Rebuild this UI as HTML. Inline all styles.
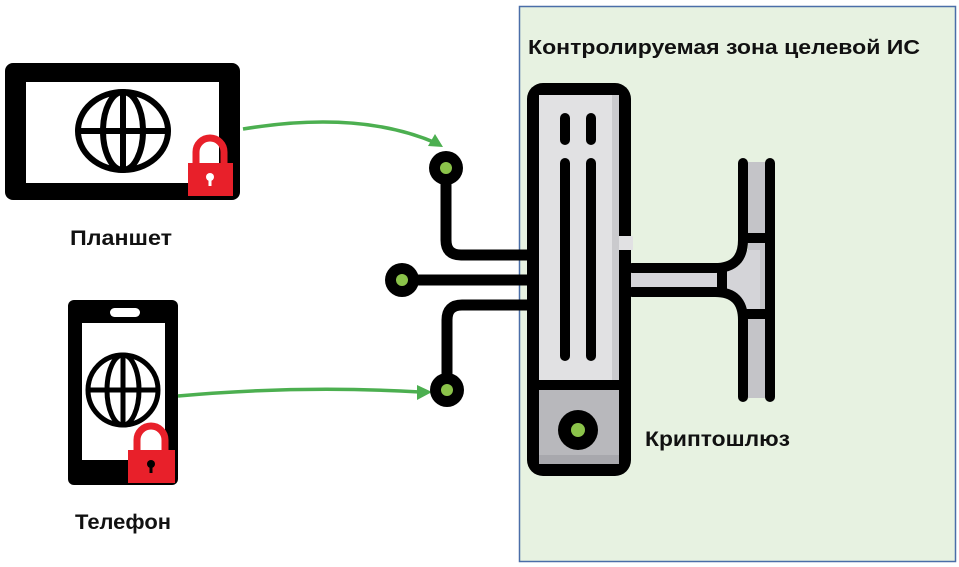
<!DOCTYPE html>
<html><head><meta charset="utf-8"><style>
html,body{margin:0;padding:0;background:#fff;}
svg{display:block;font-family:"Liberation Sans",sans-serif;}
</style></head><body>
<svg width="959" height="567" viewBox="0 0 959 567" xmlns="http://www.w3.org/2000/svg">
<rect x="519.5" y="6.5" width="436" height="555" fill="#e7f2e1" stroke="#4a6ea8" stroke-width="1.5"/>
<text x="528" y="54" font-size="20" font-weight="bold" fill="#111" textLength="392" lengthAdjust="spacingAndGlyphs">Контролируемая зона целевой ИС</text>

<!-- Tablet -->
<rect x="5" y="63" width="235" height="137" rx="8" fill="#000"/>
<rect x="26" y="82" width="193" height="101" fill="#fff"/>
<g fill="none" stroke="#000" stroke-width="6">
<ellipse cx="123" cy="131" rx="45" ry="39"/>
<ellipse cx="123" cy="131" rx="20" ry="39"/>
<line x1="78" y1="131" x2="168" y2="131"/>
<line x1="123" y1="92" x2="123" y2="170"/>
</g>
<path d="M196 165 V152 a14 14 0 0 1 28 0 V165" fill="none" stroke="#e8202a" stroke-width="7"/>
<rect x="188" y="163" width="45" height="33" fill="#e8202a"/>
<circle cx="210" cy="177" r="4" fill="#fff"/><rect x="208.5" y="178" width="3" height="8" fill="#fff"/>
<text x="70" y="245" font-size="21" font-weight="bold" fill="#111" textLength="102" lengthAdjust="spacingAndGlyphs">Планшет</text>

<!-- Phone -->
<rect x="68" y="300" width="110" height="185" rx="6" fill="#000"/>
<rect x="82" y="323" width="83" height="137" fill="#fff"/>
<rect x="110" y="308" width="30" height="9" rx="4.5" fill="#fff"/>
<g fill="none" stroke="#000" stroke-width="5">
<circle cx="123" cy="390" r="35"/>
<ellipse cx="123" cy="390" rx="16" ry="35"/>
<line x1="88" y1="390" x2="158" y2="390"/>
<line x1="123" y1="355" x2="123" y2="425"/>
</g>
<path d="M137 452 V440 a14 14 0 0 1 28 0 V452" fill="none" stroke="#e8202a" stroke-width="7"/>
<rect x="128" y="450" width="47" height="33" fill="#e8202a"/>
<circle cx="151" cy="464" r="4" fill="#000"/><rect x="149.5" y="465" width="3" height="8" fill="#000"/>
<text x="75" y="529" font-size="21" font-weight="bold" fill="#111" textLength="96" lengthAdjust="spacingAndGlyphs">Телефон</text>

<!-- green arrows -->
<g stroke="#4caf50" stroke-width="3.5" fill="none">
<path d="M243 129 Q360 110 436 143"/>
<path d="M178 396 Q300 385 420 392"/>
</g>
<polygon points="443,147 428,146 435,134" fill="#4caf50"/>
<polygon points="432,392 417,385 417,400" fill="#4caf50"/>

<!-- left connectors -->
<g stroke="#000" stroke-width="11" fill="none" stroke-linecap="round">
<path d="M446 167 V240 q0 15 15 15 H530"/>
<path d="M402 280 H530"/>
<path d="M447 390 V320 q0 -15 15 -15 H530"/>
</g>
<g fill="#000"><circle cx="446" cy="168" r="17"/><circle cx="402" cy="280" r="17"/><circle cx="447" cy="390" r="17"/></g>
<g fill="#8bc34a"><circle cx="446" cy="168" r="6"/><circle cx="402" cy="280" r="6"/><circle cx="447" cy="390" r="6"/></g>

<!-- right pipe + T -->
<rect x="748" y="162" width="18" height="236" fill="#c4c4c8"/>
<path d="M630 269 H728 q15 0 15 -15 V250 H760 V312 H743 q0 -18 -15 -18 H630 Z" fill="#d4d4d8"/>
<g stroke="#000" stroke-width="10" fill="none" stroke-linecap="round">
<line x1="770" y1="163" x2="770" y2="397"/>
<path d="M743 163 V240 q0 28 -28 28 H632"/>
<path d="M632 292 H715 q28 0 28 28 V397"/>
<line x1="745" y1="238" x2="766" y2="238"/>
<line x1="745" y1="314" x2="766" y2="314"/>
<line x1="722" y1="270" x2="722" y2="290"/>
</g>

<!-- server -->
<rect x="527" y="83" width="104" height="393" rx="16" fill="#000"/>
<rect x="539" y="95" width="80" height="285" fill="#e1e1e3"/>
<rect x="612" y="95" width="7" height="285" fill="#cacacd"/>
<rect x="539" y="390" width="80" height="74" fill="#b8b8bc"/>
<rect x="539" y="455" width="80" height="9" fill="#a8a8ad"/>
<rect x="619" y="236" width="14" height="14" fill="#e1e1e3"/>
<g stroke="#000" stroke-width="10" stroke-linecap="round">
<line x1="565" y1="118" x2="565" y2="140"/><line x1="591" y1="118" x2="591" y2="140"/>
<line x1="565" y1="163" x2="565" y2="356"/><line x1="591" y1="163" x2="591" y2="356"/>
</g>
<circle cx="578" cy="430" r="20" fill="#000"/>
<circle cx="578" cy="430" r="7" fill="#8bc34a"/>

<text x="645" y="446" font-size="21" font-weight="bold" fill="#111" textLength="145" lengthAdjust="spacingAndGlyphs">Криптошлюз</text>
</svg>
</body></html>
